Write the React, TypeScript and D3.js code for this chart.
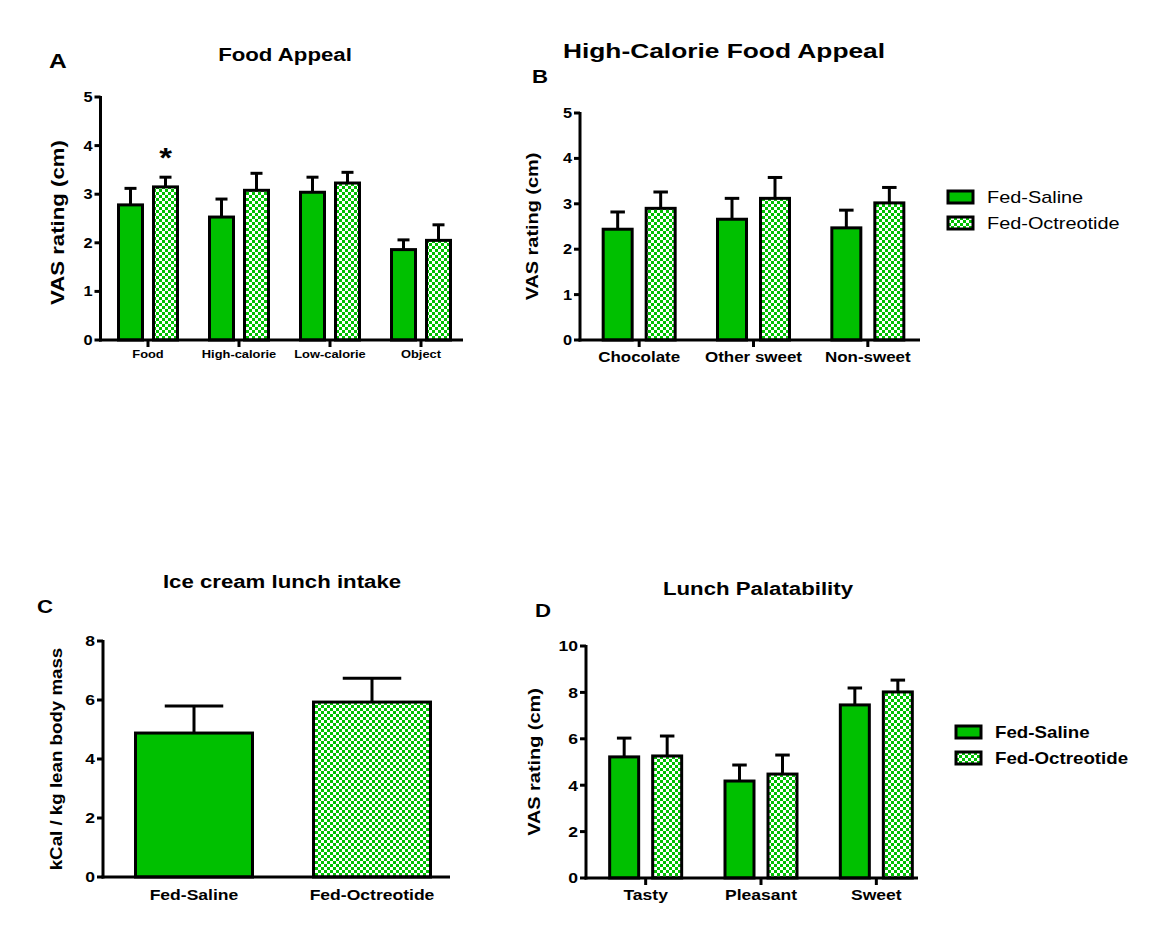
import React from 'react'
import * as d3 from 'd3'

// data
const series = ['Fed-Saline', 'Fed-Octreotide']

const appealCats = ['Food', 'High-calorie', 'Low-calorie', 'Object']
const appealSaline = [2.78, 2.53, 3.04, 1.86]
const appealSalineErr = [3.12, 2.9, 3.35, 2.06]
const appealOct = [3.15, 3.08, 3.23, 2.05]
const appealOctErr = [3.35, 3.43, 3.45, 2.37]

const hiCalCats = ['Chocolate', 'Other sweet', 'Non-sweet']
const hiCalSaline = [2.44, 2.66, 2.47]
const hiCalSalineErr = [2.82, 3.12, 2.86]
const hiCalOct = [2.9, 3.12, 3.02]
const hiCalOctErr = [3.26, 3.58, 3.36]

const lunchCats = ['Fed-Saline', 'Fed-Octreotide']
const lunchVals = [4.88, 5.93]
const lunchErr = [5.8, 6.74]

const palCats = ['Tasty', 'Pleasant', 'Sweet']
const palSaline = [5.22, 4.18, 7.46]
const palSalineErr = [6.03, 4.87, 8.19]
const palOct = [5.26, 4.48, 8.02]
const palOctErr = [6.12, 5.3, 8.53]

const GREEN = '#00c000'
const FONT = 'Liberation Sans, Arial, sans-serif'
const SX = 1.17 // the figure's text is a bit wider than Arial

// text stretched horizontally, like the source image
function T({x, y, size, bold = true, anchor = 'start', rotate = 0, sx = SX, dy, children}: any) {
  return (
    <text
      transform={`translate(${x},${y}) rotate(${rotate}) scale(${sx},1)`}
      fontSize={size}
      fontWeight={bold ? 'bold' : 'normal'}
      textAnchor={anchor}
      dy={dy}
      fontFamily={FONT}>
      {children}
    </text>
  )
}

interface Row {
  cat: string
  vals: number[]
  errs: number[]
}

interface PanelProps {
  rows: Row[]
  yMax: number
  yStep: number
  left: number
  right: number
  axisEnd: number
  top: number
  bottom: number
  barW: number
  gap: number
  tickFont: number
  catFont: number
  catY: number
  catTicks: boolean
  patternByCat?: boolean
  yTitle: string
  yTitleX: number
  yTitleDy?: number
  yTitleFont: number
  title: string
  titleX: number
  titleY: number
  titleFont?: number
  titleSx?: number
  letter: string
  letterX: number
  letterY: number
  letterFont?: number
  star?: number
}

function Panel(p: PanelProps) {
  const y = d3.scaleLinear().domain([0, p.yMax]).range([p.bottom, p.top])
  const x = d3
    .scaleBand()
    .domain(p.rows.map((r) => r.cat))
    .range([p.left, p.right])
  const nSeries = p.rows[0].vals.length
  const half = (nSeries * p.barW + (nSeries - 1) * p.gap) / 2
  const inner = d3
    .scaleBand()
    .domain(d3.range(nSeries).map(String))
    .range([-half, half])
    .paddingInner(nSeries > 1 ? p.gap / (p.barW + p.gap) : 0)
  const ticks = d3.range(0, p.yMax + 0.001, p.yStep)
  const axisX = p.left - 2
  return (
    <g>
      <T x={p.titleX} y={p.titleY} size={p.titleFont || 19} sx={p.titleSx || SX} anchor="middle">
        {p.title}
      </T>
      <T x={p.letterX} y={p.letterY} size={p.letterFont || 19}>
        {p.letter}
      </T>
      <T x={p.yTitleX} y={(p.top + p.bottom) / 2 + (p.yTitleDy || 0)} size={p.yTitleFont} anchor="middle" rotate={-90}>
        {p.yTitle}
      </T>
      {p.rows.map((r, ci) =>
        r.vals.map((v, i) => {
          const cx = (x(r.cat) as number) + x.bandwidth() / 2
          const bx = cx + (inner(String(i)) as number)
          const bw = inner.bandwidth()
          const checked = p.patternByCat ? ci === 1 : i === 1
          return (
            <g key={r.cat + i}>
              <line
                x1={bx + bw / 2}
                x2={bx + bw / 2}
                y1={y(v)}
                y2={y(r.errs[i])}
                stroke="#000"
                strokeWidth={3}
              />
              <line
                x1={bx + bw / 4}
                x2={bx + (3 * bw) / 4}
                y1={y(r.errs[i])}
                y2={y(r.errs[i])}
                stroke="#000"
                strokeWidth={3}
              />
              <rect
                x={bx}
                y={y(v)}
                width={bw}
                height={p.bottom - y(v)}
                fill={checked ? 'url(#checker)' : GREEN}
                stroke="#000"
                strokeWidth={3}
              />
            </g>
          )
        })
      )}
      {p.star !== undefined && (
        <T
          x={(x(p.rows[p.star].cat) as number) + x.bandwidth() / 2 + (inner('1') as number) + inner.bandwidth() / 2}
          y={y(p.rows[p.star].errs[1]) - 10}
          size={28}
          anchor="middle">
          *
        </T>
      )}
      {/* y axis */}
      <line x1={axisX} x2={axisX} y1={p.top - 1} y2={p.bottom + 1.5} stroke="#000" strokeWidth={3} />
      {ticks.map((t) => (
        <g key={t}>
          <line x1={axisX - 6} x2={axisX} y1={y(t)} y2={y(t)} stroke="#000" strokeWidth={3} />
          <T x={axisX - 8} y={y(t)} dy="0.36em" size={p.tickFont} anchor="end">
            {t}
          </T>
        </g>
      ))}
      {/* x axis */}
      <line x1={axisX - 1.5} x2={p.axisEnd} y1={p.bottom} y2={p.bottom} stroke="#000" strokeWidth={3} />
      {p.rows.map((r) => {
        const cx = (x(r.cat) as number) + x.bandwidth() / 2
        return (
          <g key={r.cat}>
            {p.catTicks && <line x1={cx} x2={cx} y1={p.bottom} y2={p.bottom + 7} stroke="#000" strokeWidth={3} />}
            <T x={cx} y={p.catY} size={p.catFont} anchor="middle">
              {r.cat}
            </T>
          </g>
        )
      })}
    </g>
  )
}

function Legend({x, y, bold, size}: {x: number; y: number; bold: boolean; size: number}) {
  return (
    <g>
      {series.map((s, i) => (
        <g key={s} transform={`translate(${x},${y + i * 26})`}>
          <rect x={0} y={0} width={25} height={12} fill={i === 0 ? GREEN : 'url(#checker)'} stroke="#000" strokeWidth={3} />
          <T x={39} y={6} dy="0.36em" size={size} bold={bold}>
            {s}
          </T>
        </g>
      ))}
    </g>
  )
}

function toRows(cats: string[], a: number[], ae: number[], b?: number[], be?: number[]): Row[] {
  return cats.map((c, i) => ({
    cat: c,
    vals: b ? [a[i], b[i]] : [a[i]],
    errs: be ? [ae[i], be[i]] : [ae[i]],
  }))
}

export default function App() {
  return (
    <div style={{position: 'absolute', left: 0, top: 0}}>
      <svg width={1171} height={934} style={{display: 'block', background: '#fff'}}>
        <defs>
          <pattern id="checker" width={6} height={6} patternUnits="userSpaceOnUse">
            <rect width={6} height={6} fill="#fff" />
            <rect width={3} height={3} fill={GREEN} />
            <rect x={3} y={3} width={3} height={3} fill={GREEN} />
          </pattern>
        </defs>
        <Panel
          rows={toRows(appealCats, appealSaline, appealSalineErr, appealOct, appealOctErr)}
          yMax={5}
          yStep={1}
          left={102.5}
          right={466.5}
          axisEnd={463}
          top={97}
          bottom={340}
          barW={24}
          gap={11}
          tickFont={14}
          catFont={11}
          catY={358}
          catTicks={true}
          yTitle="VAS rating (cm)"
          yTitleX={64}
          yTitleDy={4}
          yTitleFont={19}
          title="Food Appeal"
          titleX={285}
          titleY={61}
          letter="A"
          letterX={49}
          letterY={68}
          letterFont={21}
          star={0}
        />
        <Panel
          rows={toRows(hiCalCats, hiCalSaline, hiCalSalineErr, hiCalOct, hiCalOctErr)}
          yMax={5}
          yStep={1}
          left={582}
          right={925}
          axisEnd={920}
          top={113}
          bottom={340}
          barW={29}
          gap={14}
          tickFont={14}
          catFont={14.5}
          catY={362}
          catTicks={true}
          yTitle="VAS rating (cm)"
          yTitleX={538}
          yTitleFont={17}
          title="High-Calorie Food Appeal"
          titleX={724}
          titleY={58}
          titleFont={19.5}
          titleSx={1.35}
          letter="B"
          letterX={532}
          letterY={83}
        />
        <Legend x={948} y={191} bold={false} size={17} />
        <Panel
          rows={toRows(lunchCats, lunchVals, lunchErr)}
          yMax={8}
          yStep={2}
          left={105}
          right={461}
          axisEnd={450}
          top={641}
          bottom={877}
          barW={117}
          gap={0}
          tickFont={15}
          catFont={15}
          catY={900}
          catTicks={false}
          patternByCat={true}
          yTitle="kCal / kg lean body mass"
          yTitleX={62}
          yTitleFont={16}
          title="Ice cream lunch intake"
          titleX={282}
          titleY={588}
          letter="C"
          letterX={37}
          letterY={613}
        />
        <Panel
          rows={toRows(palCats, palSaline, palSalineErr, palOct, palOctErr)}
          yMax={10}
          yStep={2}
          left={588}
          right={934}
          axisEnd={918}
          top={646}
          bottom={878}
          barW={29}
          gap={14}
          tickFont={15}
          catFont={15}
          catY={900}
          catTicks={true}
          yTitle="VAS rating (cm)"
          yTitleX={540}
          yTitleFont={17}
          title="Lunch Palatability"
          titleX={758}
          titleY={595}
          letter="D"
          letterX={535}
          letterY={617}
        />
        <Legend x={956} y={726} bold={true} size={16} />
      </svg>
    </div>
  )
}
